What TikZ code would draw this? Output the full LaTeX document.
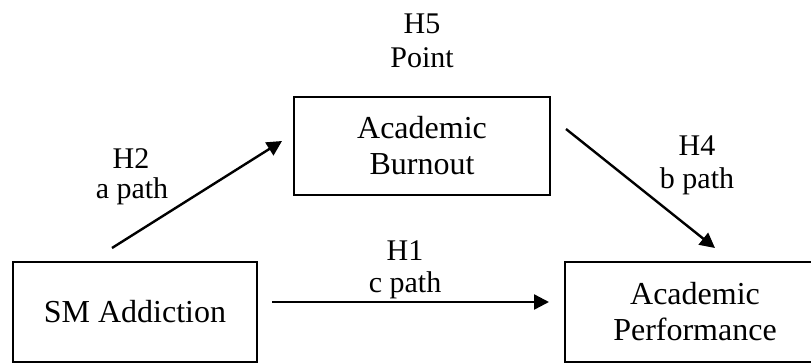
\documentclass[tikz,border=0pt]{standalone}
\usepackage{fontspec}
\setmainfont{Liberation Serif}
\usetikzlibrary{arrows.meta}
\tikzset{
  box/.style={draw, line width=2pt, rectangle, align=center, inner sep=0pt,
    font=\fontsize{32}{36}\selectfont},
  lbl/.style={anchor=base, inner sep=0pt, font=\fontsize{30}{33}\selectfont},
  arr/.style={line width=2.4pt, -{Triangle[length=15pt,width=15pt]}}
}
\begin{document}
\begin{tikzpicture}[x=1pt,y=-1pt]
\useasboundingbox (0,0) rectangle (811,362);
\fill[white] (0,0) rectangle (811,362);
\clip (0,0) rectangle (811,362);
% boxes
\node[box, minimum width=244pt, minimum height=100pt] (sm) at (135,312) {SM Addiction};
\node[box, minimum width=256pt, minimum height=98pt] (burn) at (422,146) {Academic\\Burnout};
\node[box, minimum width=260pt, minimum height=100pt] (perf) at (695,312) {Academic\\Performance};
% labels
\node[lbl] (h5) at (422,33) {H5};
\node[lbl] (pt) at (422,67) {Point};
\node[lbl] (h2) at (131,168) {H2};
\node[lbl] (ap) at (132,198) {a path};
\node[lbl] (h4) at (697,155) {H4};
\node[lbl] (bp) at (697,188) {b path};
\node[lbl] (h1) at (405,260) {H1};
\node[lbl] (cp) at (405,292) {c path};
% arrow end points
\coordinate (a1) at (112,248);
\coordinate (a2) at (282,141);
\coordinate (b1) at (566,129);
\coordinate (b2) at (715,248);
\coordinate (c1) at (272,302);
\coordinate (c2) at (549,302);
\draw[arr] (a1) -- (a2);
\draw[arr] (b1) -- (b2);
\draw[arr] (c1) -- (c2);
\end{tikzpicture}
\end{document}
